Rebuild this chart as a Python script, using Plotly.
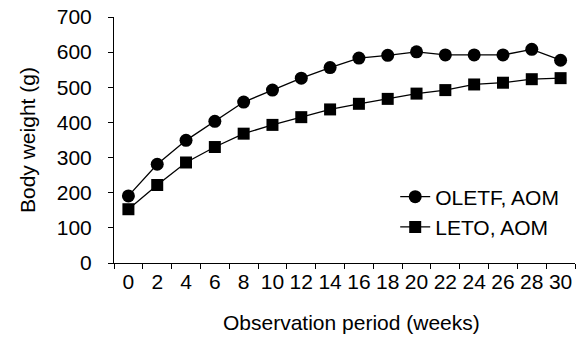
import plotly.graph_objects as go

weeks = ["0", "2", "4", "6", "8", "10", "12", "14", "16", "18", "20", "22", "24", "26", "28", "30"]
oletf = [191, 281, 349, 403, 458, 492, 526, 556, 583, 591, 601, 592, 592, 592, 608, 577]
leto = [153, 222, 286, 330, 368, 393, 415, 437, 453, 467, 482, 492, 508, 513, 523, 526]
y_ticks = [0, 100, 200, 300, 400, 500, 600, 700]

FONT = "Liberation Sans, Arial, sans-serif"
FS = 21

fig = go.Figure()
fig.add_trace(go.Scatter(x=weeks, y=oletf, mode="lines+markers", name="OLETF, AOM",
                         line=dict(color="black", width=1.3),
                         marker=dict(symbol="circle", size=13, color="black")))
fig.add_trace(go.Scatter(x=weeks, y=leto, mode="lines+markers", name="LETO, AOM",
                         line=dict(color="black", width=1.3),
                         marker=dict(symbol="square", size=12, color="black")))

fig.update_layout(
    width=577, height=343,
    margin=dict(l=114, r=2, t=17, b=80),
    paper_bgcolor="white", plot_bgcolor="white",
    font=dict(family=FONT, size=FS, color="black"),
    showlegend=True,
    legend=dict(x=0.61, y=(263 - 212) / 246, xanchor="left", yanchor="middle",
                bgcolor="rgba(0,0,0,0)", font=dict(size=FS), tracegroupgap=0,
                itemwidth=30),
    xaxis=dict(type="category", range=[-0.5, 15.5], tickson="boundaries",
               dtick=1, tickangle=0,
               ticks="outside", ticklen=5, tickcolor="black",
               showline=True, linecolor="black", linewidth=1,
               showgrid=False, zeroline=False, tickfont=dict(size=FS)),
    yaxis=dict(range=[0, 700], tickvals=y_ticks, ticks="outside", ticklen=5,
               tickcolor="black", showline=True, linecolor="black", linewidth=1,
               showgrid=False, zeroline=False, tickfont=dict(size=FS),
               ticklabelstandoff=12),
    annotations=[
        dict(text="Observation period (weeks)", xref="paper", yref="paper",
             x=(351 - 114) / 461, y=-(322 - 263) / 246, showarrow=False,
             xanchor="center", yanchor="middle", font=dict(size=FS)),
        dict(text="Body weight (g)", xref="paper", yref="paper",
             x=-(114 - 27) / 461, y=0.5, showarrow=False, textangle=-90,
             xanchor="center", yanchor="middle", font=dict(size=FS)),
    ],
)

fig.write_html("out.html")
